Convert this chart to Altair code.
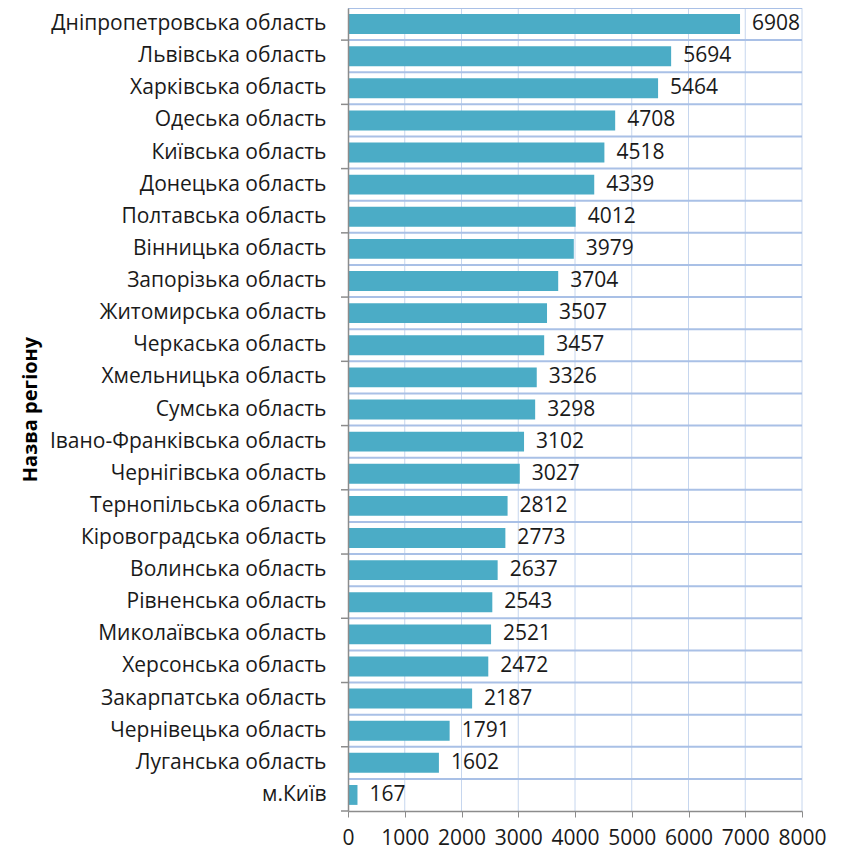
import altair as alt
import pandas as pd

regions = [
    "Дніпропетровська область", "Львівська область", "Харківська область",
    "Одеська область", "Київська область", "Донецька область",
    "Полтавська область", "Вінницька область", "Запорізька область",
    "Житомирська область", "Черкаська область", "Хмельницька область",
    "Сумська область", "Івано-Франківська область", "Чернігівська область",
    "Тернопільська область", "Кіровоградська область", "Волинська область",
    "Рівненська область", "Миколаївська область", "Херсонська область",
    "Закарпатська область", "Чернівецька область", "Луганська область",
    "м.Київ",
]
values = [6908, 5694, 5464, 4708, 4518, 4339, 4012, 3979, 3704, 3507, 3457,
          3326, 3298, 3102, 3027, 2812, 2773, 2637, 2543, 2521, 2472, 2187,
          1791, 1602, 167]
x_ticks = [0, 1000, 2000, 3000, 4000, 5000, 6000, 7000, 8000]

df = pd.DataFrame({"region": regions, "value": values})
tick_df = pd.DataFrame({"region": regions[::2]})
vgrid_df = pd.DataFrame({"value": x_ticks[1:]})
top_df = pd.DataFrame({"region": regions[:1]})
hgrid_df = pd.DataFrame({"region": regions[:-1]})

FONT = "Open Sans"
FS = 21
PAD_IN = 0.38
WIDTH = 454
HEIGHT = 803
step = HEIGHT / len(regions)
half_gap = step * PAD_IN / 2

y_scale = alt.Scale(paddingInner=PAD_IN, paddingOuter=PAD_IN / 2)
x_scale = alt.Scale(domain=[0, 8000], nice=False)

y_enc = alt.Y(
    "region:N",
    sort=regions,
    scale=y_scale,
    axis=alt.Axis(
        title="Назва регіону",
        titleFont=FONT,
        titleFontSize=20,
        titleFontWeight="bold",
        titleColor="#000000",
        titleAngle=270,
        titleX=-318,
        titleY=401,
        titleAlign="center",
        titleBaseline="middle",
        labelFont=FONT,
        labelFontSize=FS,
        labelColor="#1a1a1a",
        labelPadding=22,
        ticks=False,
        domainColor="#8c8c8c",
        domainWidth=1.5,
        grid=False,
        labelLimit=400,
        zindex=1,
    ),
)

x_enc = alt.X(
    "value:Q",
    scale=x_scale,
    axis=alt.Axis(
        title=None,
        values=x_ticks,
        format="d",
        labelFont=FONT,
        labelFontSize=FS,
        labelColor="#1a1a1a",
        labelPadding=10,
        labelOverlap=False,
        labelFlush=False,
        tickColor="#8c8c8c",
        tickSize=6,
        domainColor="#8c8c8c",
        domainWidth=1.5,
        grid=False,
        zindex=1,
    ),
)

vgrid = alt.Chart(vgrid_df).mark_rule(color="#c6d6ee", strokeWidth=1).encode(
    x=x_enc,
    y=alt.value(0),
    y2=alt.value(HEIGHT),
)

hgrid = alt.Chart(hgrid_df).mark_rule(
    color="#a9c0e6", strokeWidth=2, yOffset=half_gap
).encode(
    y=alt.Y("region:N", sort=regions, bandPosition=1),
    x=alt.value(0),
    x2=alt.value(WIDTH),
)

top_line = alt.Chart(top_df).mark_rule(
    color="#a9c0e6", strokeWidth=2, yOffset=-half_gap
).encode(
    y=alt.Y("region:N", sort=regions, bandPosition=0),
    x=alt.value(0),
    x2=alt.value(WIDTH),
)

bars = alt.Chart(df).mark_bar(color="#4bacc6").encode(x=x_enc, y=y_enc)

labels = alt.Chart(df).mark_text(
    align="left", baseline="middle", dx=12, font=FONT, fontSize=FS,
    color="#1a1a1a"
).encode(
    x=alt.X("value:Q", scale=x_scale),
    y=alt.Y("region:N", sort=regions),
    text=alt.Text("value:Q", format="d"),
)

# Excel-style category tick marks every second boundary
yticks = alt.Chart(tick_df).mark_rule(
    color="#8c8c8c", strokeWidth=1.5, yOffset=half_gap
).encode(
    x=alt.value(-7),
    x2=alt.value(0),
    y=alt.Y("region:N", sort=regions, bandPosition=1),
)

chart = (vgrid + hgrid + top_line + bars + labels + yticks).properties(
    width=WIDTH,
    height=HEIGHT,
    autosize=alt.AutoSizeParams(type="none"),
    padding={"left": 340, "top": 0, "right": 30, "bottom": 40},
).configure_view(stroke=None)

chart.save("out.html", embed_options={"renderer": "svg", "actions": False})
